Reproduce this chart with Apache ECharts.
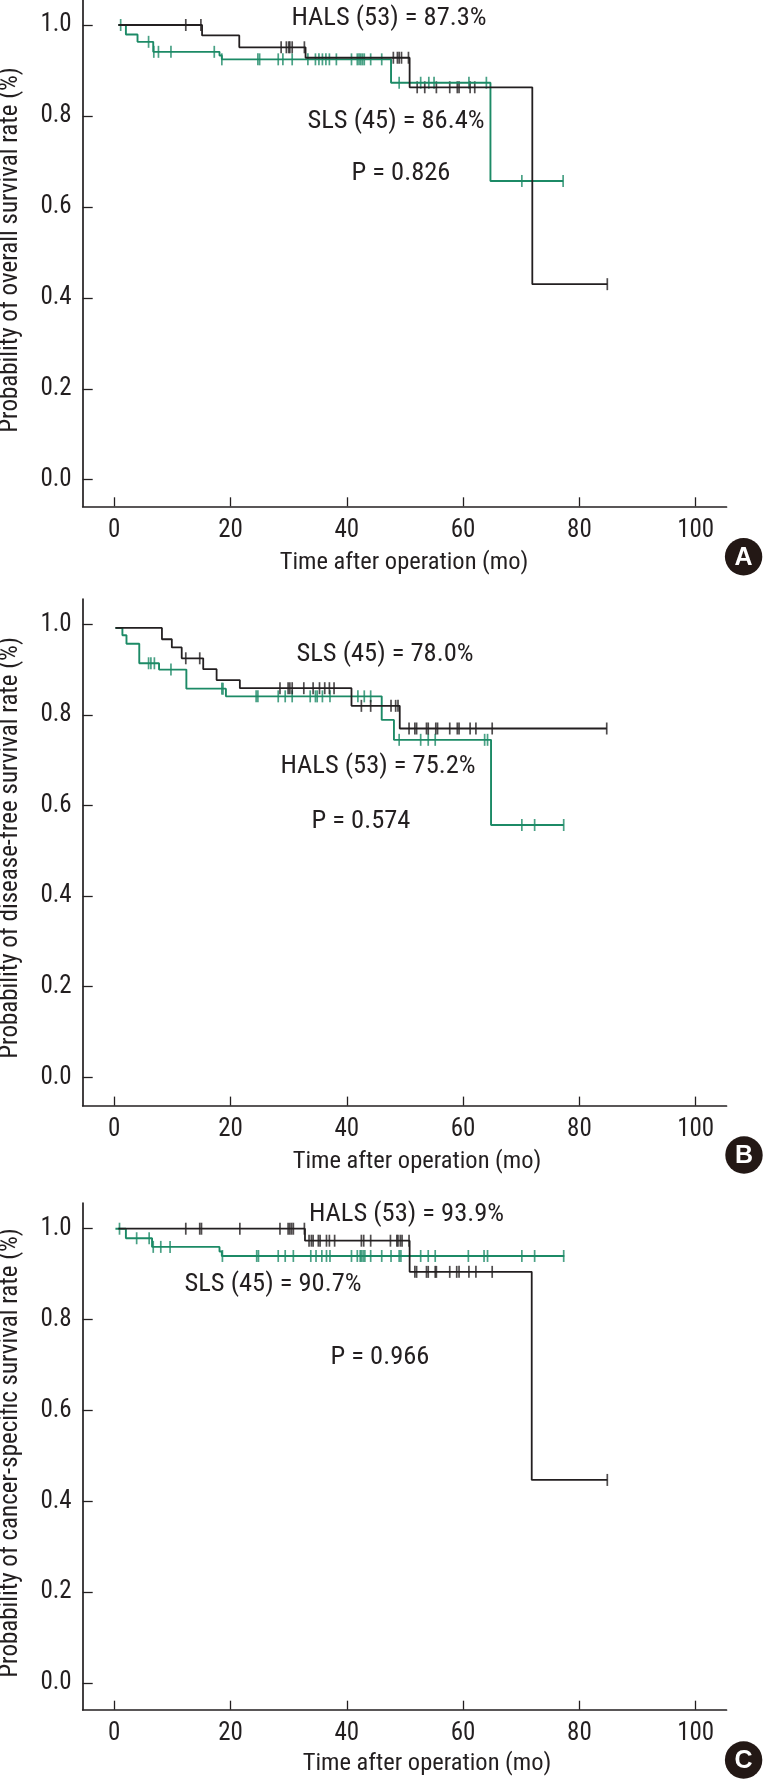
<!DOCTYPE html>
<html><head><meta charset="utf-8">
<style>html,body{margin:0;padding:0;background:#fff}#c{width:763px;height:1779px}</style>
<script src="https://cdn.jsdelivr.net/npm/echarts@6/dist/echarts.min.js"></script>
</head><body><div id="c"></div>
<script>
const xTicks=[0,20,40,60,80,100];
const yTicks=[0,0.2,0.4,0.6,0.8,1.0];
const xTitle='Time after operation (mo)';

const aBlack=[[0.7,1],[15.1,0.977],[21.5,0.951],[32.9,0.928],[50.8,0.863],[71.9,0.43],[84.8,0.43]];
const aGreen=[[0.7,1],[2.0,0.979],[4.0,0.963],[6.7,0.941],[18.1,0.933],[18.5,0.9245],[47.6,0.873],[64.7,0.657],[77.2,0.657]];
const aBlackC=[12.3,14.9,28.7,29.6,30,30.2,30.6,32.7,48,48.7,49,49.4,50.6,52.1,53.4,55.4,57.7,59,59.3,61.2,62,84.8];
const aGreenC=[1.1,5.9,6.8,7.6,9.75,17.2,18.5,24.7,25,28.2,29,30.6,33.3,34.6,35.2,35.8,36.4,37,38.2,40.8,41.8,42.1,42.4,42.7,43,44.1,46,49,52.7,54.1,55,61,64,70.1,77.2];

const bBlack=[[0.2,0.992],[8.2,0.967],[9.9,0.949],[11.6,0.925],[15.3,0.901],[17.6,0.877],[21.6,0.859],[40.8,0.82],[49.1,0.77],[84.7,0.77]];
const bGreen=[[0.2,0.992],[1.4,0.976],[2.1,0.957],[4.3,0.914],[7.7,0.9],[12.4,0.858],[19.2,0.841],[46,0.789],[48.1,0.745],[64.8,0.557],[77.3,0.557]];
const bBlackC=[12.3,14.7,28.5,29.9,30.2,30.6,32.6,34.2,35.3,36.2,37,37.8,42.5,44.1,47.6,48.4,48.8,50.7,51.7,52,53.7,54,55.3,55.6,57.7,59,59.3,61.2,62.2,65,84.7];
const bGreenC=[5.9,6.3,6.9,9.75,18.5,18.7,24.4,24.7,28.2,29.4,30.6,33.7,34.6,34.9,35.8,37.1,41.9,43,44.1,49,52.7,54,55.2,63.7,64.2,70.1,72.3,77.3];

const cBlack=[[0.7,1],[32.8,0.9736],[50.8,0.905],[71.8,0.447],[84.8,0.447]];
const cGreen=[[0.2,1],[2,0.979],[6.5,0.96],[18.1,0.95],[18.5,0.94],[77.4,0.94]];
const cBlackC=[12.3,14.7,15,21.6,28.5,29.9,30.2,30.5,30.8,32.7,33.5,33.9,34.2,35.1,35.4,36.5,37,37.9,42.5,42.9,44.1,47.5,48.6,48.8,49.2,49.5,50.7,51.7,52,53.7,54,55.2,55.4,57.7,58.9,59.3,61,62.2,65,84.8];
const cGreenC=[0.9,3.85,6,6.7,8,9.6,18.6,24.5,24.8,28.2,29.4,30.8,33.8,34.7,35.7,36.5,37.1,40.8,41.8,42.3,42.5,42.8,43.1,44.1,46,47.6,49,49.3,52.7,54,55.2,60.9,63.6,64.2,70.1,72.3,77.3];

const INK='#231f20', GREEN='#1c8a66', FONT='"Roboto Condensed","Liberation Sans",sans-serif';
const panels=[
 {top:0,h:506.3,ymin:-0.0585,ymax:1.055,k:aBlack,g:aGreen,kc:aBlackC,gc:aGreenC},
 {top:599,h:506.6,ymin:-0.0625,ymax:1.0559,k:bBlack,g:bGreen,kc:bBlackC,gc:bGreenC},
 {top:1203,h:506.7,ymin:-0.0588,ymax:1.0566,k:cBlack,g:cGreen,kc:cBlackC,gc:cGreenC}
];
const at=(curve,t)=>{let v=curve[0][1];for(const p of curve){if(p[0]<=t)v=p[1];}return v;};

const grid=[],xAxis=[],yAxis=[],series=[];
panels.forEach((p,i)=>{
 grid.push({left:82.7,width:643.8,top:p.top,height:p.h});
 xAxis.push({type:'value',gridIndex:i,min:-5.43,max:105.3,splitLine:{show:false},
  axisLine:{onZero:false,lineStyle:{color:INK,width:1.7}},
  axisTick:{inside:true,length:9,customValues:xTicks,lineStyle:{color:INK,width:1.3}},
  axisLabel:{customValues:xTicks,color:INK,fontFamily:FONT,fontSize:25,margin:12}});
 yAxis.push({type:'value',gridIndex:i,min:p.ymin,max:p.ymax,splitLine:{show:false},
  axisLine:{onZero:false,lineStyle:{color:INK,width:1.7}},
  axisTick:{inside:true,length:10,customValues:yTicks,lineStyle:{color:INK,width:1.3}},
  axisLabel:{customValues:yTicks,formatter:v=>v.toFixed(1),color:INK,fontFamily:FONT,fontSize:25,margin:11}});
 const line=(d,c,w)=>({type:'line',xAxisIndex:i,yAxisIndex:i,data:d,step:'end',showSymbol:false,symbol:'none',silent:true,animation:false,lineStyle:{color:c,width:w}});
 const cens=(ts,cv,c)=>({type:'scatter',xAxisIndex:i,yAxisIndex:i,data:ts.map(t=>[t,at(cv,t)]),symbol:'rect',symbolSize:[1.7,12],itemStyle:{color:c},silent:true,animation:false});
 series.push(line(p.g,GREEN,1.9),cens(p.gc,p.g,GREEN),line(p.k,INK,1.8),cens(p.kc,p.k,INK));
});

const notes=[
 ['HALS (53) = 87.3%',389,18],['SLS (45) = 86.4%',396,121],['P = 0.826',401,173],
 ['SLS (45) = 78.0%',385,654],['HALS (53) = 75.2%',378,766],['P = 0.574',361,821],
 ['HALS (53) = 93.9%',406.5,1214],['SLS (45) = 90.7%',273,1284],['P = 0.966',380,1357]
];
const xTitles=[[404,563],[417,1162],[427,1764]];
const yTitles=[['Probability of overall survival rate (%)',250],['Probability of disease-free survival rate (%)',848],['Probability of cancer-specific survival rate (%)',1453]];
const badges=[['A',743.6,556.7],['B',744,1155],['C',743.6,1760]];
const graphic=[];
const txt=(s,x,y,rot,size)=>({type:'text',x,y,rotation:rot||0,silent:true,style:{text:s,fill:INK,font:size+'px '+FONT,textAlign:'center',textVerticalAlign:'middle'}});
notes.forEach(n=>graphic.push(txt(n[0],n[1],n[2],0,26.5)));
xTitles.forEach(t=>graphic.push(txt(xTitle,t[0],t[1],0,24.5)));
yTitles.forEach(t=>graphic.push(txt(t[0],11,t[1],Math.PI/2,25)));
badges.forEach(b=>{
 graphic.push({type:'circle',shape:{cx:b[1],cy:b[2],r:18.7},style:{fill:'#231815'},silent:true});
 graphic.push({type:'text',x:b[1],y:b[2]+1,silent:true,z:10,style:{text:b[0],fill:'#fff',font:'bold 25px "Liberation Sans",sans-serif',textAlign:'center',textVerticalAlign:'middle'}});
});
const chart=echarts.init(document.getElementById('c'),null,{renderer:'canvas',width:763,height:1779});
chart.setOption({animation:false,backgroundColor:'#fff',grid,xAxis,yAxis,series,graphic});
</script></body></html>
